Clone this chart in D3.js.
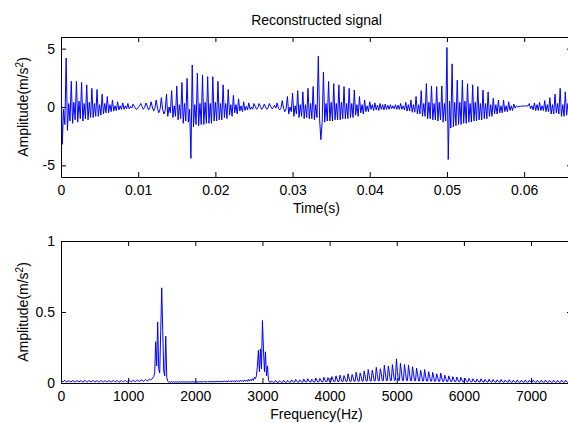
<!DOCTYPE html>
<html><head><meta charset="utf-8">
<script src="https://cdn.jsdelivr.net/npm/d3@7"></script>
<style>
body{margin:0;background:#fff}
svg{display:block}
text{font-family:"Liberation Sans",Arial,Helvetica,sans-serif;font-size:14px;fill:#000}
</style>
</head><body>
<svg id="c" width="568" height="423"></svg>
<script>
// ---------- data ----------
const chartTitle = "Reconstructed signal";
const timeLabel = "Time(s)";
const freqLabel = "Frequency(Hz)";
const ampLabel = "Amplitude(m/s";

const sampleRate = 6000;          // samples per second of the plotted trace
const timeMax = 0.0662;
const timeTicks = [0, 0.01, 0.02, 0.03, 0.04, 0.05, 0.06];
const timeTickLabels = ["0", "0.01", "0.02", "0.03", "0.04", "0.05", "0.06"];
const ampMin = -6, ampMax = 6;
const ampTicks = [-5, 0, 5];
const ampTickLabels = ["-5", "0", "5"];

// burst at t = 0
const signalBurst0 = [
 2.8,-3.2,-0.2,-1.5, 4.2,-2.0,0.3,-1.2, 2.2,-1.4,0.4,-1.1, 2.2,-1.3,0.5,-1.0,
 2.1,-1.2,0.3,-1.0, 1.9,-1.1,0.4,-0.9, 1.6,-0.9,0.3,-0.8, 1.5,-0.8,0.2,-0.7,
 1.1,-0.6,0.3,-0.5, 0.9,-0.5,0.2,-0.4, 0.6,-0.35,0.1,-0.3, 0.45,-0.25,0.1,-0.2,
 0.35,-0.2,0.1,-0.15, 0.3,-0.15,0.05,-0.1,
 0.25,0.05,-0.15,-0.2,-0.05,0.1
];
// burst near t = 0.0167
const signalBurst1 = [
 0.3,0.05,-0.2,-0.05, 0.35,0.1,-0.25,-0.1, 0.45,0.0,-0.35,-0.1,
 0.6,-0.1,-0.5,-0.2, 0.8,-0.2,-0.6,-0.3, 1.1,-0.8,0.0,-0.5, 1.4,-0.9,0.1,-0.8,
 1.8,-1.1,0.2,-1.0, 2.1,-1.4,0.3,-1.2, 2.45,-1.3,-0.2,-4.4, 3.6,-1.7,0.2,-1.5,
 2.9,-1.6,0.3,-1.5, 2.75,-1.5,0.4,-1.4, 2.6,-1.4,0.3,-1.4, 2.6,-1.2,0.4,-1.2,
 2.2,-1.1,0.3,-1.1, 1.9,-0.9,0.3,-1.0, 1.5,-0.7,0.2,-0.8, 1.0,-0.5,0.2,-0.6,
 0.7,-0.35,0.1,-0.4, 0.45,-0.3,0.05,-0.25, 0.35,-0.2,0.0,-0.2,
 0.3,0.05,-0.2,-0.05, 0.3,0.05,-0.2,-0.05, 0.25,0.0,-0.2,-0.05, 0.3,0.05,-0.15,-0.05,
 0.15,-0.1
];
// burst near t = 0.0333
const signalBurst2 = [
 0.35,-0.1,-0.25,-0.1, 0.55,-0.1,-0.4,-0.15, 0.9,-0.6,0.0,-0.4, 1.2,-0.8,0.1,-0.6,
 1.4,-0.9,0.2,-0.8, 1.3,-1.0,0.2,-0.9, 1.6,-1.0,0.3,-1.0, 1.75,-1.1,0.2,-0.9,
 4.35,-1.0,-2.8,-1.3, 3.0,-1.3,0.3,-1.2, 2.2,-1.2,0.4,-1.2, 2.0,-1.1,0.3,-1.1,
 1.9,-1.1,0.4,-1.0, 1.75,-1.0,0.3,-1.0, 1.6,-0.9,0.3,-0.9, 1.45,-0.7,0.2,-0.8,
 0.9,-0.5,0.2,-0.6, 0.6,-0.4,0.1,-0.4,
 0.45,-0.2,0.2,-0.3, 0.35,-0.25,0.15,-0.3, 0.3,-0.2,0.2,-0.25, 0.25,-0.2,0.15,-0.2,
 0.2,-0.15,0.1,-0.15, 0.2,-0.2,0.15,-0.2, 0.3,-0.2,0.1,-0.25
];
// burst near t = 0.05 and the tail
const signalBurst3 = [
 0.4,-0.35,0.2,-0.35, 0.6,-0.45,0.2,-0.45, 0.9,-0.6,0.2,-0.6, 1.4,-0.8,0.3,-0.8,
 2.0,-1.0,0.4,-1.0, 1.8,-1.1,0.3,-1.1, 1.75,-1.2,0.4,-1.1, 1.8,-1.3,0.3,-1.2,
 5.1,-4.5,0.5,-1.8, 3.7,-1.7,0.4,-1.6, 2.3,-1.5,0.4,-1.5, 2.3,-1.4,0.5,-1.4,
 2.0,-1.3,0.3,-1.3, 1.9,-1.2,0.4,-1.2, 1.75,-1.1,0.3,-1.1, 1.45,-1.0,0.3,-1.0,
 1.3,-0.8,0.2,-0.8, 0.75,-0.6,0.2,-0.6, 0.6,-0.5,0.1,-0.5, 0.6,-0.4,0.1,-0.4,
 0.45,-0.3,0.1,-0.3, 0.25,-0.1,0.1,0.0, 0.05,0.06,0.08,0.07, 0.08,0.1,0.09,0.1,
 0.3,-0.15,0.1,-0.25, 0.35,-0.3,0.2,-0.3, 0.4,-0.3,0.1,-0.3, 0.55,-0.4,0.2,-0.4,
 0.8,-0.6,0.2,-0.6, 1.1,-0.5,0.3,-0.6, 1.6,-0.8,0.2,-0.8, 1.3,-0.7,0.3,-0.7
];
const signalAmp = signalBurst0.concat(signalBurst1, signalBurst2, signalBurst3);

const freqStep = 15;              // Hz between spectrum bins
const freqMax = 7610;
const freqTicks = [0, 1000, 2000, 3000, 4000, 5000, 6000, 7000];
const specMin = 0, specMax = 1;
const specTicks = [0, 0.5, 1];
const specTickLabels = ["0", "0.5", "1"];

const specLow = [
 0.025,0.012,0.008,0.016,0.018,0.010,0.006,0.014,0.017,0.009,0.007,0.015,0.016,0.010,0.006,0.013,
 0.017,0.011,0.007,0.014,0.016,0.009,0.006,0.015,0.017,0.010,0.007,0.013,0.016,0.011,0.006,0.014,
 0.018,0.010,0.007,0.015,0.016,0.009,0.007,0.014,0.017,0.011,0.006,0.013,0.016,0.010,0.007,0.015,
 0.017,0.009,0.006,0.014,0.018,0.011,0.007,0.015,0.016,0.010,0.006,0.014,0.017,0.010,0.008,0.015,
 0.018,0.011,0.007,0.016,0.019,0.012,0.008,0.017,0.020,0.012,0.009,0.018,0.021,0.013,0.010,0.019,
 0.022,0.014,0.011,0.020,0.024,0.017,0.014,0.024,0.028,0.022,0.026,0.035,0.045
];
const peak1500 = [0.07,0.29,0.12,0.43,0.10,0.07,0.36,0.67,0.37,0.08,0.05,0.33,0.04,0.012,0.006];
const specMid = [
 0.008,0.004,0.010,0.006,0.009,0.004,0.011,0.006,0.008,0.004,0.010,0.006,0.009,0.005,0.011,0.006,
 0.009,0.004,0.010,0.006,0.008,0.005,0.011,0.006,0.009,0.004,0.010,0.007,0.009,0.005,0.011,0.006,
 0.010,0.005,0.012,0.007,0.010,0.005,0.012,0.007,0.011,0.006,0.013,0.007,0.011,0.006,0.013,0.008,
 0.012,0.006,0.014,0.008,0.012,0.007,0.015,0.008,0.013,0.007,0.016,0.009,0.014,0.008,0.017,0.009,
 0.015,0.008,0.018,0.010,0.016,0.009,0.020,0.011,0.018,0.010,0.022,0.012,0.020,0.012,
 0.025,0.013,0.024,0.015,0.030,0.018,0.040,0.030
];
const peak3000 = [0.05,0.12,0.23,0.08,0.24,0.10,0.44,0.24,0.08,0.22,0.05,0.12,0.02,0.006];
const specHigh = [
 0.005,0.015,0.007,0.004, 0.006,0.018,0.008,0.005, 0.005,0.016,0.009,0.004, 0.006,0.020,0.009,0.005,
 0.005,0.018,0.010,0.005, 0.006,0.022,0.011,0.005, 0.007,0.025,0.012,0.006, 0.006,0.022,0.012,0.005,
 0.007,0.028,0.014,0.006, 0.008,0.030,0.015,0.007, 0.007,0.027,0.016,0.006, 0.008,0.035,0.018,0.007,
 0.008,0.032,0.020,0.007, 0.009,0.040,0.021,0.008, 0.009,0.038,0.022,0.008, 0.010,0.045,0.025,0.009,
 0.010,0.050,0.028,0.009, 0.011,0.055,0.030,0.010, 0.011,0.052,0.032,0.010, 0.012,0.065,0.035,0.011,
 0.012,0.060,0.038,0.011, 0.013,0.075,0.040,0.012, 0.013,0.070,0.045,0.012, 0.014,0.085,0.048,0.013,
 0.015,0.095,0.052,0.013, 0.015,0.090,0.055,0.014, 0.016,0.110,0.060,0.015, 0.016,0.100,0.065,0.015,
 0.017,0.125,0.070,0.016, 0.018,0.120,0.072,0.016, 0.018,0.130,0.075,0.017, 0.020,0.170,0.080,0.018,
 0.019,0.140,0.078,0.017, 0.018,0.130,0.075,0.017, 0.018,0.125,0.070,0.016, 0.017,0.115,0.065,0.016,
 0.016,0.105,0.060,0.015, 0.015,0.090,0.055,0.014, 0.015,0.095,0.050,0.014, 0.014,0.080,0.045,0.013,
 0.013,0.075,0.042,0.012, 0.013,0.065,0.038,0.012, 0.012,0.070,0.035,0.011, 0.011,0.055,0.032,0.010,
 0.011,0.050,0.028,0.010, 0.010,0.045,0.025,0.009, 0.010,0.042,0.023,0.009, 0.009,0.040,0.021,0.008,
 0.009,0.035,0.019,0.008, 0.008,0.032,0.018,0.008, 0.008,0.030,0.016,0.007, 0.008,0.028,0.015,0.007,
 0.008,0.030,0.014,0.007, 0.007,0.025,0.013,0.006, 0.007,0.027,0.013,0.006, 0.007,0.024,0.012,0.006,
 0.007,0.022,0.012,0.006, 0.007,0.025,0.011,0.006, 0.006,0.020,0.011,0.006, 0.006,0.023,0.011,0.005,
 0.006,0.020,0.010,0.005, 0.006,0.022,0.010,0.005, 0.006,0.019,0.010,0.005, 0.006,0.021,0.010,0.005,
 0.006,0.020,0.010,0.005, 0.006,0.022,0.010,0.005, 0.006,0.019,0.009,0.005, 0.006,0.020,0.009,0.005,
 0.006,0.021,0.010,0.005, 0.006,0.018,0.009,0.005, 0.006,0.020,0.009,0.005, 0.006,0.019,0.009,0.005,
 0.006,0.021,0.010,0.005, 0.006,0.020,0.009,0.005, 0.006,0.019,0.009,0.005, 0.006
];
const spectrumAmp = specLow.concat(peak1500, specMid, peak3000, specHigh);

// ---------- drawing ----------
const svg = d3.select("#c");
const L = 61, R = 572;
const top1 = 37, bot1 = 177, top2 = 241, bot2 = 383;
const lineColor = "#0000ff";

function panel(id, x, y, top, bot, xTickVals, xFmt, yTickVals, yFmt, xlab) {
  const g = svg.append("g");
  g.append("clipPath").attr("id", id).append("rect")
    .attr("x", L).attr("y", top).attr("width", R - L).attr("height", bot - top);
  g.append("g").attr("transform", `translate(0,${bot})`)
    .call(d3.axisBottom(x).tickValues(xTickVals).tickFormat((d, i) => xFmt(d, i))
      .tickSizeInner(-5).tickSizeOuter(0).tickPadding(8));
  g.append("g").attr("transform", `translate(0,${top})`)
    .call(d3.axisTop(x).tickValues(xTickVals).tickFormat("")
      .tickSizeInner(-5).tickSizeOuter(0));
  g.append("g").attr("transform", `translate(${L},0)`)
    .call(d3.axisLeft(y).tickValues(yTickVals).tickFormat((d, i) => yFmt(d, i))
      .tickSizeInner(-5).tickSizeOuter(0).tickPadding(6));
  g.append("g").attr("transform", `translate(${R},0)`)
    .call(d3.axisRight(y).tickValues(yTickVals).tickFormat("")
      .tickSizeInner(-5).tickSizeOuter(0));
  g.selectAll(".domain").attr("stroke", "#000");
  g.selectAll(".tick line").attr("stroke", "#000");
  g.selectAll(".tick text").style("font-size", "14px")
    .style("font-family", '"Liberation Sans",Arial,sans-serif');
  g.append("text").attr("x", (L + R) / 2).attr("y", bot + 36)
    .attr("text-anchor", "middle").text(xlab);
  const t = g.append("text")
    .attr("transform", `translate(28,${(top + bot) / 2}) rotate(-90)`)
    .attr("text-anchor", "middle");
  t.append("tspan").text(ampLabel);
  t.append("tspan").attr("dy", -5).style("font-size", "10px").text("2");
  t.append("tspan").attr("dy", 5).text(")");
  return g;
}

// Top panel
const xT = d3.scaleLinear().domain([0, timeMax]).range([L, R]);
const yT = d3.scaleLinear().domain([ampMin, ampMax]).range([bot1, top1]);
const g1 = panel("clipTop", xT, yT, top1, bot1, timeTicks, (d, i) => timeTickLabels[i],
  ampTicks, (d, i) => ampTickLabels[i], timeLabel);
g1.append("path").datum(signalAmp)
  .attr("clip-path", "url(#clipTop)")
  .attr("fill", "none").attr("stroke", lineColor).attr("stroke-width", 1)
  .attr("d", d3.line().x((d, i) => xT(i / sampleRate)).y(d => yT(d)));

svg.append("text").attr("x", (L + R) / 2).attr("y", 25)
  .attr("text-anchor", "middle").text(chartTitle);

// Bottom panel
const xF = d3.scaleLinear().domain([0, freqMax]).range([L, R]);
const yF = d3.scaleLinear().domain([specMin, specMax]).range([bot2, top2]);
const g2 = panel("clipBot", xF, yF, top2, bot2, freqTicks, d => String(d),
  specTicks, (d, i) => specTickLabels[i], freqLabel);
g2.append("path").datum(spectrumAmp)
  .attr("clip-path", "url(#clipBot)")
  .attr("fill", "none").attr("stroke", lineColor).attr("stroke-width", 1)
  .attr("d", d3.line().x((d, i) => xF(i * freqStep)).y(d => yF(d)));
</script>
</body></html>
